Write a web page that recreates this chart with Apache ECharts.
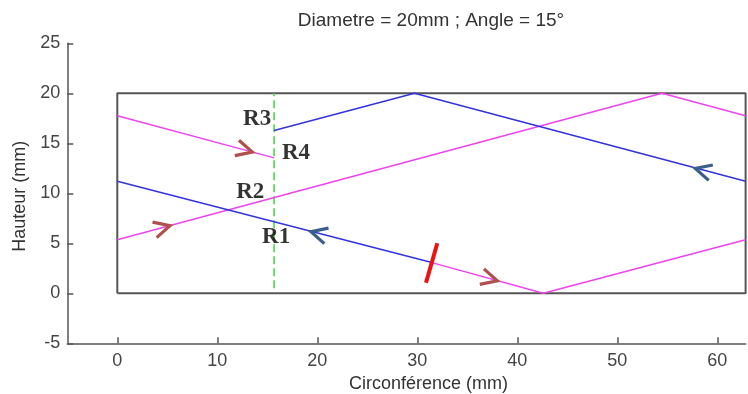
<!DOCTYPE html>
<html><head><meta charset="utf-8">
<script src="https://cdn.jsdelivr.net/npm/echarts@6/dist/echarts.min.js"></script>
<style>html,body{margin:0;padding:0;background:#fff}#c{width:748px;height:394px}</style>
</head><body><div id="c"></div>
<script>
const titleText = 'Diametre = 20mm ; Angle = 15°';
const xName = 'Circonférence (mm)';
const yName = 'Hauteur (mm)';
const xTicks = [0, 10, 20, 30, 40, 50, 60];
const yTicks = [-5, 0, 5, 10, 15, 20, 25];
const xMin = -5, xMax = 62.83, yMin = -5, yMax = 25;
const boxPts = [[0, 0], [62.83, 0], [62.83, 20], [0, 20], [0, 0]];
const pinkA = [[0, 5.35], [54.47, 20], [62.83, 17.75]];
const pinkB = [[0, 17.75], [15.68, 13.54]];
const pinkC = [[31.45, 3.07], [42.6, 0], [62.83, 5.35]];
const blueA = [[15.68, 16.28], [29.72, 20], [62.83, 11.2]];
const blueB = [[0, 11.2], [31.45, 3.07]];
const greenCut = [[15.68, 0.5], [15.68, 20]];
const redMark = [[30.87, 1.06], [32.0, 5.0]];
const pinkArrows = [[4.5, 6.55], [12.73, 14.33], [37.23, 1.46]];
const pinkArrowDir = [15, -15, -15];
const blueArrows = [[20.14, 5.95], [58.57, 12.27]];
const blueArrowDir = [165, 165];
const rLabels = [[15.88, 5.6, 'R1'], [13.29, 10.09, 'R2'], [13.98, 17.42, 'R3'], [17.87, 14.02, 'R4']];

const FONT = 'Liberation Sans, Arial, sans-serif';
const chevron = 'path://M0,0L10,6L0,12';
const axisCol = '#555';

function lineSeries(data, color, extra) {
  return Object.assign({
    type: 'line', data: data, showSymbol: false, symbol: 'none', silent: true,
    lineStyle: { color: color, width: 1.5 }, z: 3, animation: false
  }, extra || {});
}
function arrowSeries(pts, dirs, color) {
  return {
    type: 'scatter', silent: true, animation: false, z: 5,
    symbol: chevron, symbolSize: [16, 16],
    data: pts.map((p, i) => ({ value: p, symbolRotate: dirs[i] })),
    itemStyle: { color: 'none', borderColor: color, borderWidth: 3.2, opacity: 1 }
  };
}

const chart = echarts.init(document.getElementById('c'), null, { renderer: 'canvas' });
chart.setOption({
  animation: false,
  backgroundColor: '#fff',
  grid: { left: 67.3, right: 2.4, top: 43.3, bottom: 50.7, containLabel: false, outerBoundsMode: 'none' },
  graphic: [{
    type: 'text', x: 431, y: 21,
    style: { text: titleText, font: '19px ' + FONT, fill: '#333', textAlign: 'center', textVerticalAlign: 'middle' }
  }],
  xAxis: {
    type: 'value', min: xMin, max: xMax,
    axisLine: { show: true, onZero: false, lineStyle: { color: axisCol, width: 1.5 } },
    axisTick: { show: true, inside: true, length: 6, customValues: xTicks, lineStyle: { color: axisCol, width: 1.5 } },
    axisLabel: { customValues: xTicks, color: '#444', fontSize: 18, fontFamily: FONT, margin: 9 },
    splitLine: { show: false },
    name: xName, nameLocation: 'middle', nameGap: 31,
    nameTextStyle: { color: '#333', fontSize: 18, fontFamily: FONT, padding: [0, 0, 0, 44] }
  },
  yAxis: {
    type: 'value', min: yMin, max: yMax, interval: 5,
    axisLine: { show: true, onZero: false, lineStyle: { color: axisCol, width: 1.5 } },
    axisTick: { show: true, inside: true, length: 6, customValues: yTicks, lineStyle: { color: axisCol, width: 1.5 } },
    axisLabel: { customValues: yTicks, color: '#444', fontSize: 18, fontFamily: FONT, margin: 7 },
    splitLine: { show: false },
    name: yName, nameLocation: 'middle', nameGap: 34,
    nameTextStyle: { color: '#333', fontSize: 18, fontFamily: FONT, padding: [0, 6, 0, 0] }
  },
  series: [
    lineSeries(boxPts, '#555', { lineStyle: { color: '#555', width: 2 }, z: 2 }),
    lineSeries(greenCut, '#33dd33', { lineStyle: { color: '#33dd33', width: 1.5, type: [8, 4] } }),
    lineSeries(pinkA, '#ee44ee'),
    lineSeries(pinkB, '#ee44ee'),
    lineSeries(pinkC, '#ee44ee'),
    lineSeries(blueA, '#3333dd'),
    lineSeries(blueB, '#3333dd'),
    lineSeries(redMark, '#ee1111', { lineStyle: { color: '#ee1111', width: 4 }, z: 4 }),
    arrowSeries(pinkArrows, pinkArrowDir, '#b0504c'),
    arrowSeries(blueArrows, blueArrowDir, '#3a5f8a'),
    {
      type: 'scatter', silent: true, animation: false, z: 6,
      symbol: 'circle', symbolSize: 1, itemStyle: { color: 'rgba(0,0,0,0)' },
      data: rLabels,
      label: {
        show: true, position: 'inside', formatter: p => p.value[2],
        fontFamily: 'Liberation Serif, Times New Roman, serif', fontWeight: 'bold', fontSize: 23, color: '#000'
      }
    }
  ]
});
</script>
</body></html>
